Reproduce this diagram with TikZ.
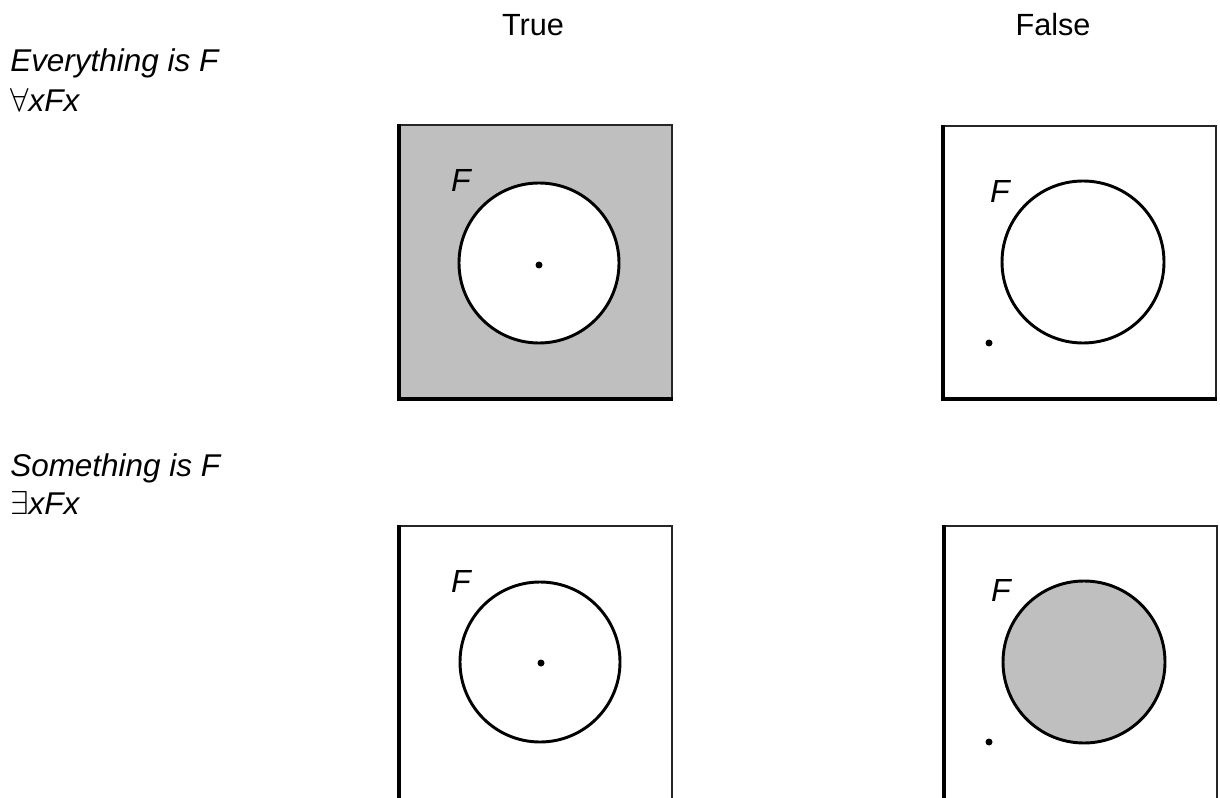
\documentclass[tikz,border=0pt]{standalone}
\usepackage{fontspec}
\setmainfont{Liberation Sans}
\begin{document}
\begin{tikzpicture}[x=0.75pt,y=-0.75pt,
  lbl/.style={anchor=base west,inner sep=0pt,font=\fontsize{23.6}{28}\selectfont\itshape},
  head/.style={anchor=base,inner sep=0pt,font=\fontsize{23}{28}\selectfont},
  flbl/.style={inner sep=0pt,font=\fontsize{24}{28}\selectfont\itshape},
  thinedge/.style={draw=black!85,line width=1.5pt},
  thickedge/.style={draw=black,line width=3.2pt},
  circ/.style={draw=black,line width=2.2pt},
  pt/.style={fill=black}]
\useasboundingbox (0,0) rectangle (1220,798);
\clip (0,0) rectangle (1220,798);

% headings
\node[head] (true) at (533,36) {True};
\node[head] (false) at (1053,36) {False};

% row labels
\node[lbl] (every) at (10,72) {Everything is F};
\node[lbl] (allx) at (10,112) {$\forall$xFx};
\node[lbl] (some) at (10,476) {Something is F};
\node[lbl] (exx) at (10,514) {$\exists$xFx};

% ---- top-left: true, everything is F
\fill[black!25] (399,125.5) rectangle (672,399);
\draw[thinedge] (399,125.5) -- (672,125.5) -- (672,399);
\draw[thickedge] (399,124.5) -- (399,399) -- (672.7,399);
\draw[circ,fill=white] (539,263) circle (80);
\fill[pt] (539,265) circle (3.5);
\node[flbl] (f1) at (461,180) {F};

% ---- top-right: false
\draw[thinedge] (943,126) -- (1216,126) -- (1216,399);
\draw[thickedge] (943,125) -- (943,399) -- (1216.7,399);
\draw[circ] (1083,262) circle (81);
\fill[pt] (989,343) circle (3.5);
\node[flbl] (f2) at (1000,191) {F};

% ---- bottom-left: true, something is F
\draw[thinedge] (399,526) -- (672,526) -- (672,800);
\draw[thickedge] (399,525) -- (399,800);
\draw[circ] (540,662) circle (80);
\fill[pt] (541,663) circle (3.5);
\node[flbl] (f3) at (461,581) {F};

% ---- bottom-right: false
\draw[thinedge] (944,526) -- (1217,526) -- (1217,800);
\draw[thickedge] (944,525) -- (944,800);
\draw[circ,fill=black!25] (1084,662) circle (81);
\fill[pt] (989,742) circle (3.5);
\node[flbl] (f4) at (1001,590) {F};
\end{tikzpicture}
\end{document}
